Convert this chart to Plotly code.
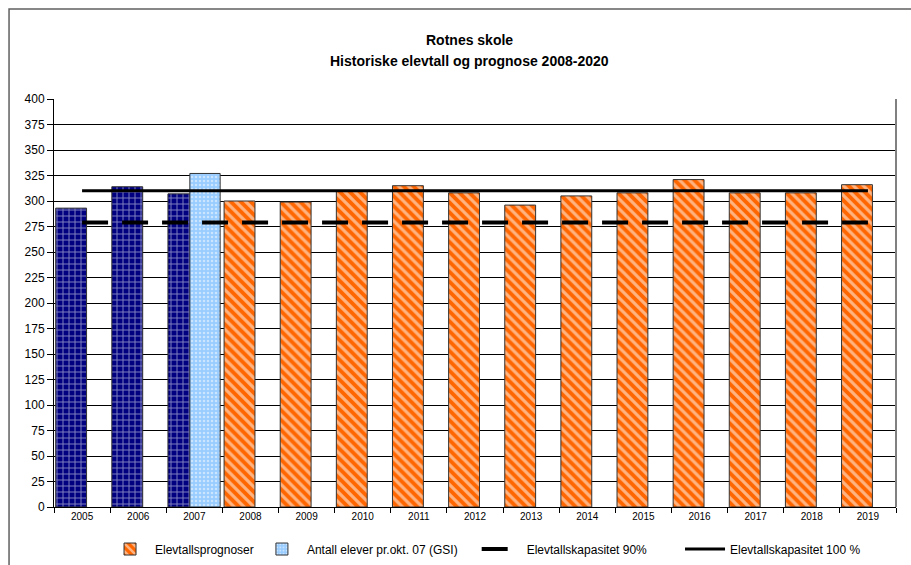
import plotly.graph_objects as go

years = [str(y) for y in range(2005, 2020)]
hist_years = ["2005", "2006", "2007"]
hist_values = [293, 314, 307]
gsi_years = ["2007"]
gsi_values = [327]
prog_years = [str(y) for y in range(2008, 2020)]
prog_values = [300, 299, 310, 315, 308, 296, 305, 308, 321, 308, 308, 316]
cap100 = [310] * len(years)
cap90 = [279] * len(years)

FONT = "Liberation Sans, Arial, sans-serif"

fig = go.Figure()

fig.add_trace(go.Bar(
    x=hist_years, y=hist_values, name="Historisk", showlegend=False,
    width=0.55, offset=-0.47,
    marker=dict(color="#000080", opacity=1, line=dict(color="#333333", width=1),
                pattern=dict(shape="+", fgcolor="white", bgcolor="#000080", size=6, solidity=0.3)),
))
fig.add_trace(go.Bar(
    x=prog_years, y=prog_values, name="Elevtallsprognoser", legend="legend",
    width=0.55, offset=-0.47,
    marker=dict(color="#FF6600", opacity=1, line=dict(color="#333333", width=1),
                pattern=dict(shape="\\", fgcolor="white", bgcolor="#FF6600", size=7, solidity=0.45)),
))
fig.add_trace(go.Bar(
    x=gsi_years, y=gsi_values, name="Antall elever pr.okt. 07 (GSI)", legend="legend2",
    width=0.54, offset=-0.08,
    marker=dict(color="#99CCFF", opacity=1, line=dict(color="#333333", width=1),
                pattern=dict(shape=".", fgcolor="white", bgcolor="#99CCFF", size=4, solidity=0.3)),
))
fig.add_trace(go.Scatter(
    x=years, y=cap90, mode="lines", name="Elevtallskapasitet 90%", legend="legend3",
    line=dict(color="black", width=4, dash="26px,14px"),
))
fig.add_trace(go.Scatter(
    x=years, y=cap100, mode="lines", name="Elevtallskapasitet 100 %", legend="legend4",
    line=dict(color="black", width=3),
))

def leg(xpos):
    return dict(orientation="h", x=xpos, xanchor="left", y=-0.103, yanchor="middle",
                font=dict(family=FONT, size=12), itemwidth=40, bgcolor="rgba(0,0,0,0)")

fig.update_layout(
    width=911, height=565,
    margin=dict(l=54, r=15, t=99, b=58, autoexpand=False),
    paper_bgcolor="white", plot_bgcolor="white",
    barmode="overlay",
    font=dict(family=FONT, size=11, color="black"),
    showlegend=True,
    legend=leg(0.0606),
    legend2=leg(0.241),
    legend3=leg(0.502),
    legend4=leg(0.7435),
    xaxis=dict(type="category", categoryorder="array", categoryarray=years,
               range=[-0.5, 14.5], tickson="boundaries", ticks="outside", ticklen=5,
               tickcolor="black", showline=True, linecolor="black", linewidth=1,
               showgrid=False, tickfont=dict(size=10), fixedrange=True),
    yaxis=dict(range=[0, 400], dtick=25, ticks="outside", ticklen=6, tickcolor="black",
               showline=True, linecolor="black", linewidth=1,
               showgrid=True, gridcolor="black", gridwidth=1, zeroline=False,
               tickfont=dict(size=12)),
    annotations=[
        dict(text="<b>Rotnes skole</b>", xref="paper", yref="paper", x=0.494, y=1.1446,
             xanchor="center", yanchor="middle", showarrow=False, font=dict(size=14, family=FONT)),
        dict(text="<b>Historiske elevtall og prognose 2008-2020</b>", xref="paper", yref="paper",
             x=0.494, y=1.0931, xanchor="center", yanchor="middle", showarrow=False,
             font=dict(size=14, family=FONT)),
    ],
    shapes=[
        dict(type="rect", xref="paper", yref="paper", x0=-0.0534, x1=1.03, y0=-0.16, y1=1.2206,
             line=dict(color="#606060", width=1.5), fillcolor="rgba(0,0,0,0)", layer="below"),
        dict(type="line", xref="paper", yref="paper", x0=1, x1=1, y0=0, y1=1,
             line=dict(color="#808080", width=2)),
    ],
)

fig.write_html("out.html", config={"displayModeBar": False},
               post_script="document.body.style.margin='0';")
